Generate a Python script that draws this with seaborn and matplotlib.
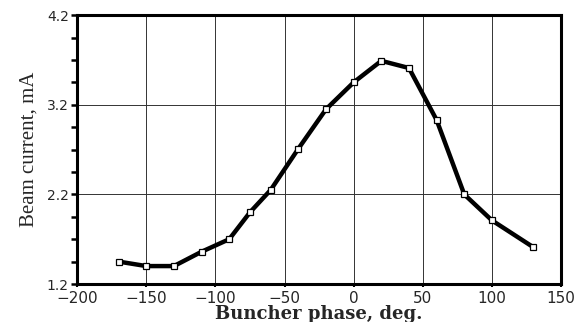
import numpy as np
import pandas as pd
import matplotlib
matplotlib.use("Agg")
import matplotlib.pyplot as plt
from matplotlib.ticker import FixedLocator
import seaborn as sns

# Buncher phase scan
phase_deg = [-170, -150, -130, -110, -90, -75, -60, -40, -20, 0, 20, 40, 60, 80, 100, 130]
beam_mA = [1.45, 1.40, 1.40, 1.56, 1.70, 2.00, 2.25, 2.71, 3.15, 3.45, 3.69, 3.61, 3.03, 2.20, 1.91, 1.61]

x_ticks = [-200, -150, -100, -50, 0, 50, 100, 150]
y_ticks = [1.2, 2.2, 3.2, 4.2]

df = pd.DataFrame({"phase": phase_deg, "current": beam_mA})

sns.set_style("white")

fig = plt.figure(figsize=(5.76, 3.22), dpi=100)
ax = fig.add_axes([0.134, 0.118, 0.840, 0.835])

sns.lineplot(data=df, x="phase", y="current", ax=ax, color="black",
             linewidth=3.2, marker="s", markersize=5, markerfacecolor="white",
             markeredgecolor="black", markeredgewidth=0.9, zorder=3)

ax.set_xlim(-200, 150)
ax.set_ylim(1.2, 4.2)
ax.set_xticks(x_ticks)
ax.set_yticks(y_ticks)
ax.set_xticklabels([f"{v}".replace("-", "\u2212") for v in x_ticks],
                   fontsize=11, family="DejaVu Sans")
ax.set_yticklabels([f"{v:.1f}" for v in y_ticks], fontsize=10, family="DejaVu Sans")
# minor ticks: quarter steps between the major ones
minor_y = [1.2 + 0.25 * k for k in range(13) if k % 4 != 0]
ax.yaxis.set_minor_locator(FixedLocator(minor_y))

ax.grid(True, which="major", color="#333333", linewidth=0.7)
for s in ax.spines.values():
    s.set_linewidth(2.2)
    s.set_color("black")

ax.tick_params(axis="y", which="both", left=True, direction="out", length=4,
               width=1.8, pad=2, color="black")
ax.tick_params(axis="x", which="major", bottom=True, direction="out", length=2,
               width=1.5, pad=3, color="black")

ax.set_xlabel("Buncher phase, deg.", fontsize=13, family="DejaVu Serif",
              fontweight="bold", labelpad=-1)
ax.set_ylabel("Beam current, mA", fontsize=15, family="Liberation Serif", labelpad=6)

fig.savefig("out.png", dpi=100)
